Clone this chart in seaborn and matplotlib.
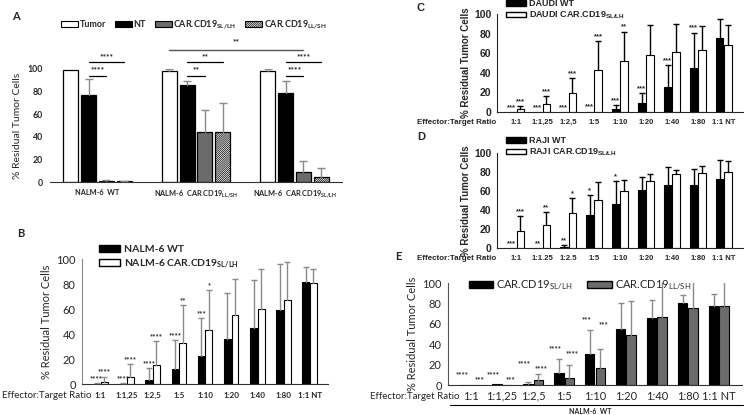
import pandas as pd
import seaborn as sns
import matplotlib.pyplot as plt
from matplotlib.patches import Patch

# ---- data ----
ratios = ["1:1", "1:1,25", "1:2,5", "1:5", "1:10", "1:20", "1:40", "1:80", "1:1 NT"]
ratios_d = ["1:1", "1:1.25", "1:2.5", "1:5", "1:10", "1:20", "1:40", "1:80", "1:1 NT"]

# A
a_groups = ["NALM-6  WT", "NALM-6  CAR.CD19$_{LL/SH}$", "NALM-6  CAR.CD19$_{SL/LH}$"]
a_conditions = ["Tumor", "NT", "CAR.CD19$_{SL/LH}$", "CAR.CD19$_{LL/SH}$"]
a_tumor = [99, 98.5, 98.5]
a_tumor_err = [0, 1.5, 1.5]
a_nt = [77, 86, 78.5]
a_nt_err = [14, 3.5, 11]
a_sl = [1, 44, 8.5]
a_sl_err = [0.5, 19.5, 10.5]
a_ll = [0.7, 44.5, 4.5]
a_ll_err = [0.3, 25, 7.5]

# B
b_names = ["NALM-6 WT", "NALM-6 CAR.CD19$_{SL/LH}$"]
b_wt = [0.3, 0.3, 3.5, 12, 22.5, 36, 44.5, 59.5, 82]
b_wt_err = [0.5, 0.3, 9.5, 23, 30.5, 36.5, 38.5, 36.5, 12]
b_car = [2, 5.5, 15, 33, 43, 55.5, 60, 67.5, 81]
b_car_err = [4, 10.5, 19.5, 30, 32, 28.5, 32, 30.5, 11]
b_stars_wt = ["****", "****", "****", "****", "***", "", "", "", ""]
b_stars_car = ["****", "****", "****", "**", "*", "", "", "", ""]

# C
c_names = ["DAUDI WT", "DAUDI CAR.CD19$_{SL/LH}$"]
c_wt = [0, 0, 0, 0.5, 3, 9.5, 26, 44.5, 76]
c_wt_err = [0, 0, 0, 0, 4, 10, 22, 36.5, 18.5]
c_car = [3, 8, 19.5, 42.5, 52, 58, 61, 63, 68]
c_car_err = [3, 8, 15.5, 29.5, 30, 30.5, 29, 25, 21]
c_stars_wt = ["***", "***", "***", "***", "***", "***", "***", "***", ""]
c_stars_car = ["***", "***", "***", "***", "**", "", "", "", ""]

# D
d_names = ["RAJI WT", "RAJI CAR.CD19$_{SL/LH}$"]
d_wt = [0, 0, 1.5, 35, 46.5, 61, 66, 66, 72.5]
d_wt_err = [0, 0, 2, 21, 24.5, 14, 19, 17, 20]
d_car = [18, 24, 36.5, 51, 59.5, 71, 78, 78.5, 79.5]
d_car_err = [15.5, 14, 16.5, 18, 12.5, 7, 4.5, 7.5, 12]
d_stars_wt = ["***", "**", "**", "*", "*", "", "", "", ""]
d_stars_car = ["***", "**", "*", "", "", "", "", "", ""]

# E
e_names = ["CAR.CD19$_{SL/LH}$", "CAR.CD19$_{LL/SH}$"]
e_sl = [0, 0.5, 1, 11.5, 30, 54.5, 65.5, 80, 77]
e_sl_err = [0, 0, 2, 14, 24, 26, 18, 8.5, 12]
e_ll = [0, 0, 4.5, 7, 16.5, 49, 67, 75.5, 77.5]
e_ll_err = [0, 0, 6.5, 12.5, 18.5, 33, 40, 30, 30]
e_stars_sl = ["****", "****", "****", "****", "***", "", "", "", ""]
e_stars_ll = ["***", "***", "****", "****", "***", "", "", "", ""]

sns.set_style("white")
plt.rcParams['font.family'] = ['Lato', 'DejaVu Sans']
plt.rcParams['mathtext.default'] = 'regular'
plt.rcParams['hatch.linewidth'] = 0.5
plt.rcParams['hatch.color'] = '#555555'

W, H = 744, 415
fig = plt.figure(figsize=(7.44, 4.15), dpi=100)
CAL = ['Lato', 'DejaVu Sans']
ARIAL = ['Liberation Sans', 'DejaVu Sans']
HATCH = "/" * 16


def box(x0, x1, ytop, ybot):
    return [x0 / W, 1 - ybot / H, (x1 - x0) / W, (ybot - ytop) / H]


def long_df(cats, names, values):
    rows = []
    for name, vals in zip(names, values):
        for c, v in zip(cats, vals):
            rows.append({"x": c, "grp": name, "val": v})
    return pd.DataFrame(rows)


def bars(ax, cats, names, values, colors, width, gap, lw=0.8):
    df = long_df(cats, names, values)
    sns.barplot(data=df, x="x", y="val", hue="grp", order=cats, hue_order=names,
                palette=colors, width=width, gap=gap, edgecolor="black",
                linewidth=lw, errorbar=None, legend=False, ax=ax)
    ax.set_xlabel("")
    ax.set_ylabel("")
    ax.set_ylim(0, 100)


def centers(ax):
    return [[(b.get_x() + b.get_width() / 2, b.get_height()) for b in c] for c in ax.containers]


def add_err(ax, errs, color, ms=5):
    for pts, err in zip(centers(ax), errs):
        for (x, y), e in zip(pts, err):
            if e <= 0:
                continue
            ax.plot([x, x], [y, y + e], color=color, lw=1, zorder=3)
            ax.plot(x, y + e, marker="_", ms=ms, mew=1, color=color, zorder=3)


def add_stars(ax, errs, stars, pads, fs, family, pair=False, dx=(0, 0)):
    pts_all = centers(ax)
    tops = [[y + e for (x, y), e in zip(pts, err)] for pts, err in zip(pts_all, errs)]
    for k, (pts, lab) in enumerate(zip(pts_all, stars)):
        for i, ((x, y), s) in enumerate(zip(pts, lab)):
            if not s:
                continue
            t = max(tp[i] for tp in tops) if pair else tops[k][i]
            ax.text(x + dx[k], t + pads[k], s, ha="center", va="center", fontsize=fs,
                    fontweight="bold", family=family, clip_on=False)


# ================= A =================
axA = fig.add_axes(box(50, 342, 69, 182))
bars(axA, a_groups, a_conditions, [a_tumor, a_nt, a_sl, a_ll],
     ["white", "black", "#6b6b6b", "white"], 0.72, 0.15, lw=0.9)
for b in axA.containers[3]:
    b.set_hatch(HATCH)
add_err(axA, [a_tumor_err, a_nt_err, a_sl_err, a_ll_err], "#8a8a8a", ms=6)
sns.despine(ax=axA, left=True)
axA.spines["bottom"].set_color("#333333")
axA.set_yticks([0, 20, 40, 60, 80, 100])
axA.tick_params(axis="both", length=0, pad=5)
for t in axA.get_yticklabels():
    t.set_fontsize(6.3)
    t.set_fontweight("bold")
for t in axA.get_xticklabels():
    t.set_fontsize(5.3)
    t.set_fontweight("bold")
axA.set_ylabel("% Residual Tumor Cells", fontsize=7.5, labelpad=4)

ptsA = centers(axA)
sig_a = ["****", "**", "****"]
for g, s in enumerate(sig_a):
    x_nt = ptsA[1][g][0]
    for cond, yl in [(3, 106), (2, 94)]:
        x_t = ptsA[cond][g][0]
        axA.plot([x_nt, x_t], [yl, yl], color="black", lw=0.9, clip_on=False)
        axA.text((x_nt + x_t) / 2, yl + 5, s, ha="center", va="center", fontsize=6,
                 fontweight="bold", clip_on=False)
axA.plot([ptsA[0][1][0], ptsA[2][2][0]], [117, 117], color="#555555", lw=1, clip_on=False)
axA.text((ptsA[0][1][0] + ptsA[2][2][0]) / 2, 124, "**", ha="center", va="center",
         fontsize=6, fontweight="bold", clip_on=False)

hA = [Patch(facecolor="white", edgecolor="black", lw=0.8),
      Patch(facecolor="black", edgecolor="black", lw=0.8),
      Patch(facecolor="#6b6b6b", edgecolor="black", lw=0.8),
      Patch(facecolor="white", edgecolor="black", hatch=HATCH, lw=0.8)]
fig.legend(hA, a_conditions, loc="center left", bbox_to_anchor=(53 / W, 1 - 25 / H),
           ncol=4, frameon=False, prop={"family": CAL, "size": 6.5, "weight": "bold"},
           handlelength=1.9, handleheight=0.6, handletextpad=0.15, columnspacing=1.0)
fig.text(12 / W, 1 - 17 / H, "A", fontsize=8, fontweight="bold", va="center")

# ================= B =================
axB = fig.add_axes(box(82, 328, 259, 384))
bars(axB, ratios, b_names, [b_wt, b_car], ["black", "white"], 0.58, 0.1)
add_err(axB, [b_wt_err, b_car_err], "#8a8a8a", ms=4)
add_stars(axB, [b_wt_err, b_car_err], [b_stars_wt, b_stars_car], (3.5, 3.5), 5.5, CAL)
sns.despine(ax=axB)
axB.spines["left"].set_color("#888888")
axB.spines["bottom"].set_color("#333333")
axB.set_yticks([0, 20, 40, 60, 80, 100])
axB.tick_params(axis="y", length=2.5, color="#888888", labelsize=8, pad=2)
axB.tick_params(axis="x", length=0, pad=6)
for t in axB.get_xticklabels():
    t.set_fontsize(5.8)
    t.set_fontweight("bold")
axB.set_ylabel("% Residual Tumor Cells", fontsize=8, labelpad=3)
hB = [Patch(facecolor="black", edgecolor="black"), Patch(facecolor="white", edgecolor="black")]
axB.legend(hB, b_names, loc="upper left", bbox_to_anchor=(99 / W, 1 - 245 / H),
           bbox_transform=fig.transFigure, frameon=False, borderpad=0, borderaxespad=0,
           prop={"family": CAL, "size": 7.5, "weight": "bold"},
           handlelength=2.0, handleheight=0.6, handletextpad=0.4, labelspacing=0.35)
fig.text(2 / W, 1 - 395 / H, "Effector:Target Ratio", fontsize=7, va="center")
fig.text(17 / W, 1 - 233 / H, "B", fontsize=8, fontweight="bold", va="center")


# ================= C and D =================
def graphpad(ax, names, vals, errs, stars, cats, legend_top, tick_y, label_y, letter):
    bars(ax, cats, names, vals, ["black", "white"], 0.64, 0.12)
    add_err(ax, errs, "black", ms=4)
    add_stars(ax, errs, stars, (4.5, 4.5), 5.5, ARIAL)
    sns.despine(ax=ax)
    ax.set_yticks([0, 20, 40, 60, 80, 100])
    ax.tick_params(axis="y", length=3, width=1, pad=1)
    ax.tick_params(axis="x", length=0, pad=5)
    for t in ax.get_yticklabels():
        t.set_family(ARIAL)
        t.set_fontsize(7.5)
        t.set_fontweight("bold")
    for t in ax.get_xticklabels():
        t.set_family(ARIAL)
        t.set_fontsize(5.5)
        t.set_fontweight("bold")
    ax.set_ylabel("% Residual Tumor Cells", fontsize=7, fontweight="bold",
                  family=ARIAL, labelpad=2)
    h = [Patch(facecolor="black", edgecolor="black"), Patch(facecolor="white", edgecolor="black")]
    ax.legend(h, names, loc="upper left", bbox_to_anchor=(506 / W, 1 - legend_top / H),
              bbox_transform=fig.transFigure, frameon=False, borderpad=0, borderaxespad=0,
              prop={"family": ARIAL, "size": 6.5, "weight": "bold"},
              handlelength=2.2, handleheight=0.55, handletextpad=0.4, labelspacing=0.2)
    fig.text(417 / W, 1 - tick_y / H, "Effector:Target Ratio", fontsize=5.8,
             fontweight="bold", family=ARIAL, va="center")
    fig.text(417 / W, 1 - label_y / H, letter, fontsize=8, fontweight="bold",
             family=ARIAL, va="center")


axC = fig.add_axes(box(497, 743, 14, 112))
graphpad(axC, c_names, [c_wt, c_car], [c_wt_err, c_car_err], [c_stars_wt, c_stars_car],
         ratios, -1, 122, 8, "C")
axD = fig.add_axes(box(497, 743, 153, 248))
graphpad(axD, d_names, [d_wt, d_car], [d_wt_err, d_car_err], [d_stars_wt, d_stars_car],
         ratios_d, 136, 258, 137, "D")

# ================= E =================
axE = fig.add_axes(box(448, 742, 283, 385))
bars(axE, ratios, e_names, [e_sl, e_ll], ["black", "#6b6b6b"], 0.66, 0.1)
add_err(axE, [e_sl_err, e_ll_err], "#8a8a8a", ms=4)
add_stars(axE, [e_sl_err, e_ll_err], [e_stars_sl, e_stars_ll], (10, 5), 5.5, CAL,
          pair=True, dx=(-0.12, 0.1))
sns.despine(ax=axE)
axE.spines["left"].set_color("#555555")
axE.spines["bottom"].set_color("#333333")
axE.set_yticks([0, 20, 40, 60, 80, 100])
axE.tick_params(axis="y", length=2.5, color="#555555", labelsize=8, pad=2)
axE.tick_params(axis="x", length=0, labelsize=8, pad=4)
axE.set_ylabel("% Residual Tumor Cells", fontsize=8, labelpad=3)
hE = [Patch(facecolor="black", edgecolor="black"), Patch(facecolor="#6b6b6b", edgecolor="black")]
axE.legend(hE, e_names, loc="center left", bbox_to_anchor=(463 / W, 1 - 285 / H),
           bbox_transform=fig.transFigure, frameon=False, ncol=2, borderpad=0,
           prop={"family": CAL, "size": 8},
           handlelength=2.2, handleheight=0.6, handletextpad=0.3, columnspacing=1.3)
fig.text(370 / W, 1 - 396 / H, "Effector:Target Ratio", fontsize=7, va="center")
fig.add_artist(plt.Line2D([450 / W, 743 / W], [1 - 405 / H, 1 - 405 / H], color="black", lw=0.8))
fig.text(590 / W, 1 - 411 / H, "NALM-6  WT", fontsize=5, fontweight="bold", ha="center", va="center")
fig.text(395 / W, 1 - 257 / H, "E", fontsize=8, fontweight="bold", va="center")

fig.savefig("out.png", dpi=100, facecolor="white")
